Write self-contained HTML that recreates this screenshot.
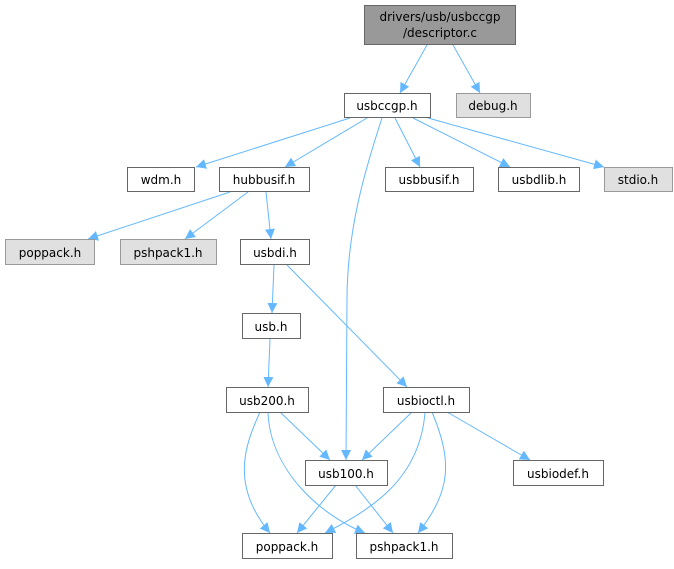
<!DOCTYPE html>
<html><head><meta charset="utf-8"><style>
body{margin:0;background:#fff;width:674px;height:564px;overflow:hidden}
text{font-family:"DejaVu Sans","Liberation Sans",sans-serif;font-size:12px;fill:#000;text-anchor:middle}
.n{fill:#fff;stroke:#666;stroke-width:1}
.g{fill:#e0e0e0;stroke:#999;stroke-width:1}
.e{fill:none;stroke:#63b8ff;stroke-width:1}
</style></head><body>
<svg width="674" height="564" viewBox="0 0 674 564">
<defs><marker id="a" viewBox="0 0 10 10" refX="10" refY="5" markerWidth="10" markerHeight="10" markerUnits="userSpaceOnUse" orient="auto"><path d="M0,0L10,5L0,10z" fill="#63b8ff"/></marker></defs>
<g class="e" marker-end="url(#a)">
<path d="M427,45L400,93"/>
<path d="M453,45L480,93"/>
<path d="M350,118L196,167"/>
<path d="M367,118L285,167"/>
<path d="M382,118C365,170 347,230 347,300L346,460"/>
<path d="M395,118L420,167"/>
<path d="M413,118L510,167"/>
<path d="M428,118L604,167"/>
<path d="M230,192L88,239"/>
<path d="M248,192L185,239"/>
<path d="M266,192L271,239"/>
<path d="M274,265L272,313"/>
<path d="M287,265L407,387"/>
<path d="M270,339L268,387"/>
<path d="M280,412L330,460"/>
<path d="M260,412C245,445 230,485 270,533"/>
<path d="M268,412C270,470 320,515 365,533"/>
<path d="M336,485L297,533"/>
<path d="M355,485L393,533"/>
<path d="M412,412L362,460"/>
<path d="M425,412C420,480 370,510 325,533"/>
<path d="M432,412C452,460 452,490 418,533"/>
<path d="M447,412L530,460"/>
</g>
<rect x="364.5" y="5.5" width="151" height="39" fill="#999" stroke="#666"/>
<text x="440" y="21">drivers/usb/usbccgp</text><text x="440" y="37">/descriptor.c</text>
<rect class="n" x="344.5" y="93.5" width="86" height="24"/><text x="387" y="110">usbccgp.h</text>
<rect class="g" x="456.5" y="93.5" width="74" height="24"/><text x="493" y="110">debug.h</text>
<rect class="n" x="127.5" y="167.5" width="67" height="24"/><text x="161" y="184">wdm.h</text>
<rect class="n" x="219.5" y="167.5" width="90" height="24"/><text x="264" y="184">hubbusif.h</text>
<rect class="n" x="385.5" y="167.5" width="88" height="24"/><text x="429" y="184">usbbusif.h</text>
<rect class="n" x="498.5" y="167.5" width="81" height="24"/><text x="539" y="184">usbdlib.h</text>
<rect class="g" x="604.5" y="167.5" width="68" height="24"/><text x="638" y="184">stdio.h</text>
<rect class="g" x="5.5" y="239.5" width="89" height="25"/><text x="50" y="257">poppack.h</text>
<rect class="g" x="120.5" y="239.5" width="96" height="25"/><text x="168" y="257">pshpack1.h</text>
<rect class="n" x="240.5" y="239.5" width="69" height="25"/><text x="275" y="257">usbdi.h</text>
<rect class="n" x="242.5" y="313.5" width="58" height="25"/><text x="271" y="331">usb.h</text>
<rect class="n" x="226.5" y="387.5" width="82" height="25"/><text x="267" y="405">usb200.h</text>
<rect class="n" x="383.5" y="387.5" width="86" height="25"/><text x="426" y="405">usbioctl.h</text>
<rect class="n" x="305.5" y="460.5" width="82" height="25"/><text x="346" y="478">usb100.h</text>
<rect class="n" x="513.5" y="460.5" width="90" height="25"/><text x="558" y="478">usbiodef.h</text>
<rect class="n" x="242.5" y="533.5" width="90" height="25"/><text x="287" y="551">poppack.h</text>
<rect class="n" x="356.5" y="533.5" width="96" height="25"/><text x="404" y="551">pshpack1.h</text>
</svg>
</body></html>
